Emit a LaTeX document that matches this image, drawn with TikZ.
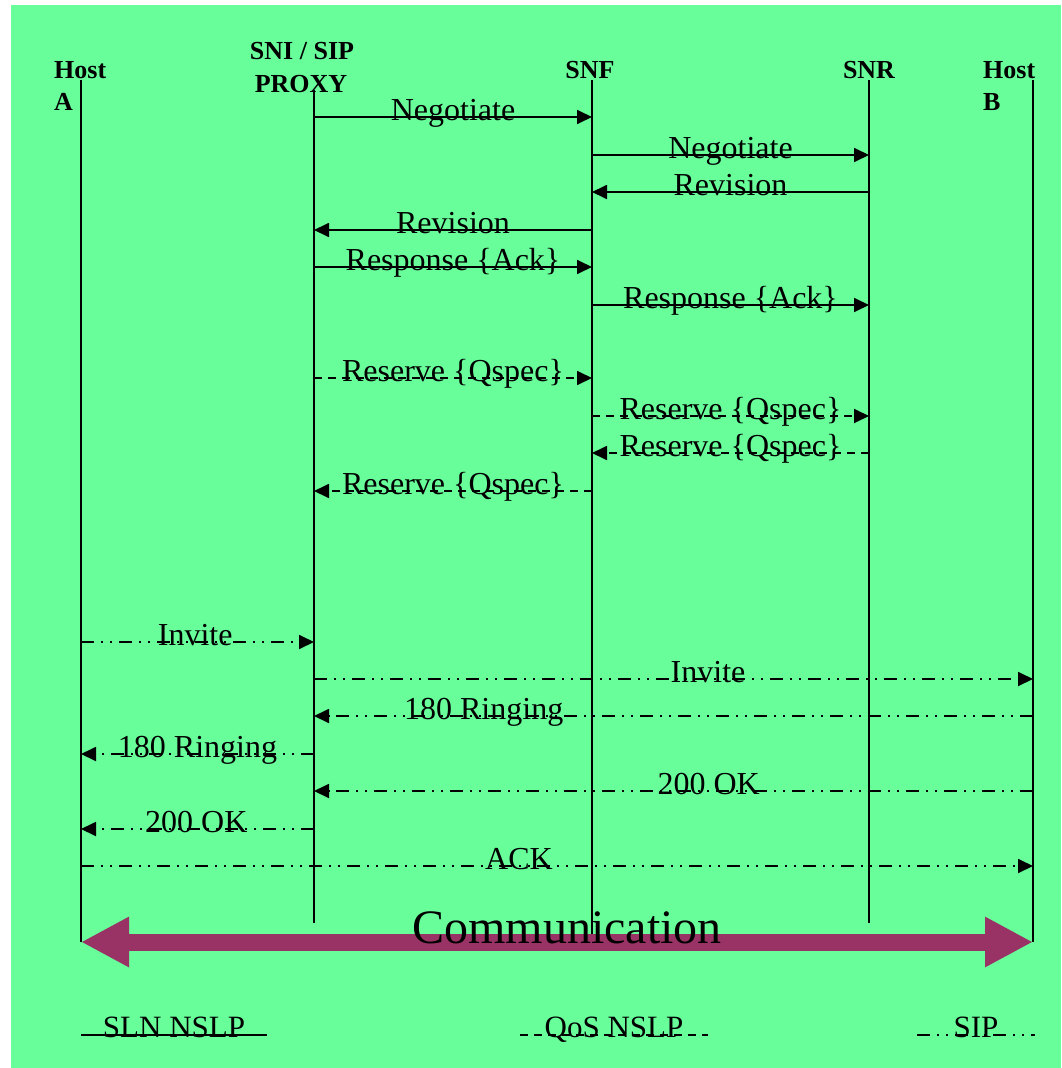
\documentclass[tikz,border=0pt]{standalone}
\usepackage{fontspec}
\setmainfont{Liberation Serif}
\usetikzlibrary{arrows.meta,calc}
\definecolor{bggreen}{RGB}{104,255,155}
\definecolor{commred}{RGB}{153,51,102}
\tikzset{
  life/.style={line width=1.6pt},
  msg/.style={line width=1.8pt,-{Triangle[length=15pt,width=14pt]}},
  rsv/.style={msg,dash pattern=on 8pt off 6pt},
  sipmsg/.style={msg,dash pattern=on 13pt off 7pt on 2pt off 7pt on 2pt off 7pt},
  lbl/.style={font=\fontsize{32}{32}\selectfont,anchor=base,inner sep=0pt,yshift=-3pt},
  hdr/.style={font=\bfseries\fontsize{26}{26}\selectfont,inner sep=0pt},
  leglbl/.style={font=\fontsize{31}{31}\selectfont,anchor=base,inner sep=0pt,yshift=-2pt},
  legline/.style={line width=1.8pt}
}
\begin{document}
\begin{tikzpicture}[x=1pt,y=1pt]
\useasboundingbox (0,0) rectangle (1061,-1068);
\fill[bggreen] (11,-5) rectangle (1061,-1068);

% headers
\node[hdr,anchor=base west] (hA1) at (54,-78) {Host};
\node[hdr,anchor=base west] (hA2) at (54,-110) {A};
\node[hdr,anchor=base] (hS1) at (302,-59) {SNI / SIP};
\node[hdr,anchor=base] (hS2) at (301,-92) {PROXY};
\node[hdr,anchor=base] (hF) at (590,-78) {SNF};
\node[hdr,anchor=base] (hR) at (869,-78) {SNR};
\node[hdr,anchor=base west] (hB1) at (983,-78) {Host};
\node[hdr,anchor=base west] (hB2) at (983,-110) {B};

% lifelines
\coordinate (Atop) at (81,-80);   \coordinate (Abot) at (81,-942);
\coordinate (Stop) at (314,-90);  \coordinate (Sbot) at (314,-923);
\coordinate (Ftop) at (592,-80);  \coordinate (Fbot) at (592,-941);
\coordinate (Rtop) at (869,-80);  \coordinate (Rbot) at (869,-923);
\coordinate (Btop) at (1033,-80); \coordinate (Bbot) at (1033,-942);
\foreach \t/\b in {Atop/Abot,Stop/Sbot,Ftop/Fbot,Rtop/Rbot,Btop/Bbot}
  \draw[life] (\t) -- (\b);

% message rows
\foreach \y [count=\i] in {117,155,192,230,267,305,378,416,453,491,642,679,716,754,791,829,866}
  \coordinate (r\i) at (0,-\y);

\draw[msg] (Stop |- r1) -- node[lbl] {Negotiate} (Ftop |- r1);
\draw[msg] (Ftop |- r2) -- node[lbl] {Negotiate} (Rtop |- r2);
\draw[msg] (Rtop |- r3) -- node[lbl] {Revision} (Ftop |- r3);
\draw[msg] (Ftop |- r4) -- node[lbl] {Revision} (Stop |- r4);
\draw[msg] (Stop |- r5) -- node[lbl] {Response \{Ack\}} (Ftop |- r5);
\draw[msg] (Ftop |- r6) -- node[lbl] {Response \{Ack\}} (Rtop |- r6);

\draw[rsv] (Stop |- r7) -- node[lbl] {Reserve \{Qspec\}} (Ftop |- r7);
\draw[rsv] (Ftop |- r8) -- node[lbl] {Reserve \{Qspec\}} (Rtop |- r8);
\draw[rsv] (Rtop |- r9) -- node[lbl] {Reserve \{Qspec\}} (Ftop |- r9);
\draw[rsv] (Ftop |- r10) -- node[lbl] {Reserve \{Qspec\}} (Stop |- r10);

\draw[sipmsg] (Atop |- r11) -- node[lbl,pos=0.49] {Invite} (Stop |- r11);
\draw[sipmsg] (Stop |- r12) -- node[lbl,pos=0.548] {Invite} (Btop |- r12);
\draw[sipmsg] (Btop |- r13) -- node[lbl,pos=0.764] {180 Ringing} (Stop |- r13);
\draw[sipmsg] (Stop |- r14) -- node[lbl,pos=0.5] {180 Ringing} (Atop |- r14);
\draw[sipmsg] (Btop |- r15) -- node[lbl,pos=0.451] {200 OK} (Stop |- r15);
\draw[sipmsg] (Stop |- r16) -- node[lbl,pos=0.505] {200 OK} (Atop |- r16);
\draw[sipmsg] (Atop |- r17) -- node[lbl,pos=0.46] {ACK} (Btop |- r17);

% communication
\draw[commred,line width=17pt,{Triangle[length=48pt,width=47pt]}-{Triangle[length=48pt,width=47pt]}] (Abot) -- (Bbot);
\node[font=\fontsize{48}{48}\selectfont,anchor=base,inner sep=0pt] (comm) at (567,-943) {Communication};

% legend
\coordinate (l1s) at (81,-1035);  \coordinate (l1e) at (267,-1035);
\coordinate (l2s) at (520,-1035); \coordinate (l2e) at (708,-1035);
\coordinate (l3s) at (917,-1035); \coordinate (l3e) at (1035,-1035);
\draw[legline] (l1s) -- node[leglbl] {SLN NSLP} (l1e);
\draw[legline,dash pattern=on 8pt off 6pt] (l2s) -- node[leglbl] {QoS NSLP} (l2e);
\draw[legline,dash pattern=on 13pt off 7pt on 2pt off 7pt on 2pt off 7pt] (l3s) -- node[leglbl] {SIP} (l3e);
\end{tikzpicture}
\end{document}
